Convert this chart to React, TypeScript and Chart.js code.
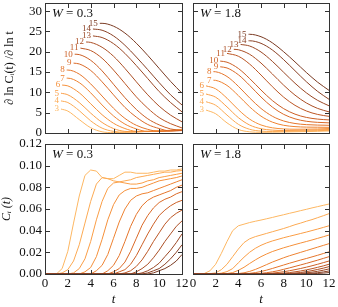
import React, { useEffect, useRef } from "react";
import { Chart, registerables } from "chart.js";

Chart.register(...registerables);

const W = 338;
const H = 307;
const FONT = "'Liberation Serif', 'DejaVu Serif', serif";
const INK = "#111111";
const FRAME = "#333333";
const X_AXIS_H = 33;
const TICK_LEN = 4;

// series indices (n) and their colours
const NS = [3, 4, 5, 6, 7, 8, 9, 10, 11, 12, 13, 14, 15];
const COLORS = [
  "#fdb762", "#fcaa53", "#fa9d45", "#f5903a", "#ee8231", "#e5752b", "#da6927",
  "#cc5f25", "#bc5624", "#ab4e24", "#9a4724", "#8a4024", "#7a3a22",
];

// time grids
const T_TOP = [0, 1, 2, 3, 4, 5, 6, 7, 8, 9, 10, 11, 12];
const T_BOT = [0, 0.5, 1, 1.5, 2, 2.5, 3, 3.5, 4, 4.5, 5, 5.5, 6, 6.5, 7, 7.5, 8, 8.5, 9, 9.5, 10, 10.5, 11, 11.5, 12];

// ticks
const X_TICKS = [0, 2, 4, 6, 8, 10, 12];
const TOP_Y_TICKS = [0, 5, 10, 15, 20, 25, 30];
const BOT_Y_TICKS = [0, 0.02, 0.04, 0.06, 0.08, 0.1, 0.12];

// ---- top-left: d ln C / d ln t, W = 0.3 ----
const TL_START_T = [1.4, 1.4, 1.4, 1.5, 1.9, 1.9, 2.5, 2.6, 3.1, 3.6, 4.2, 4.2, 4.8];
const TL_START_V = [5.9, 7.9, 9.8, 11.8, 13.5, 15.5, 17.2, 19.4, 20.9, 22.4, 23.9, 25.6, 27.0];
const TL_VALS: (number | null)[][] = [
  [null, null, 5.4, 3.3, 1.3, 0.3, 0.1, 0.2, 0.3, 0.4, 0.5, 0.7, 0.9],
  [null, null, 7.5, 5.5, 3.0, 1.2, 0.4, 0.2, 0.3, 0.4, 0.5, 0.65, 0.85],
  [null, null, 9.4, 7.5, 4.9, 2.6, 1.1, 0.4, 0.3, 0.4, 0.5, 0.6, 0.8],
  [null, null, 11.6, 9.9, 7.2, 4.5, 2.4, 1.1, 0.4, 0.35, 0.45, 0.6, 0.75],
  [null, null, 13.5, 12.4, 9.9, 6.9, 4.2, 2.2, 1.0, 0.4, 0.45, 0.55, 0.7],
  [null, null, 15.5, 14.5, 12.1, 9.1, 6.1, 3.6, 1.9, 0.9, 0.4, 0.5, 0.65],
  [null, null, null, 17.0, 15.4, 12.6, 9.4, 6.3, 3.9, 2.1, 1.1, 0.5, 0.6],
  [null, null, null, 19.3, 17.9, 15.3, 12.0, 8.7, 5.8, 3.5, 2.0, 1.0, 0.6],
  [null, null, null, null, 20.3, 18.4, 15.5, 12.2, 8.9, 6.1, 3.8, 2.3, 1.25],
  [null, null, null, null, 22.3, 21.1, 18.9, 15.9, 12.6, 9.4, 6.6, 4.4, 2.75],
  [null, null, null, null, null, 23.5, 22.0, 19.6, 16.6, 13.4, 10.2, 7.5, 5.2],
  [null, null, null, null, null, 25.3, 23.9, 21.6, 18.7, 15.6, 12.4, 9.4, 6.9],
  [null, null, null, null, null, 27.0, 26.3, 24.6, 22.1, 19.1, 15.9, 12.7, 9.8],
];

// ---- top-right: d ln C / d ln t, W = 1.8 ----
const TR_START_T = [1.15, 1.15, 1.15, 1.15, 1.8, 1.8, 2.4, 2.4, 3.0, 3.6, 4.2, 4.9, 4.9];
const TR_START_V = [5.65, 7.7, 9.6, 11.6, 13.0, 15.1, 16.3, 17.7, 19.6, 20.6, 21.8, 22.7, 24.3];
const TR_VALS: (number | null)[][] = [
  [null, null, 4.74, 2.49, 0.87, 0.29, 0.18, 0.2, 0.25, 0.3, 0.35, 0.42, 0.5],
  [null, null, 6.83, 4.41, 2.14, 0.91, 0.47, 0.38, 0.4, 0.45, 0.5, 0.58, 0.65],
  [null, null, 8.81, 6.42, 3.79, 1.96, 1.05, 0.71, 0.62, 0.65, 0.7, 0.78, 0.85],
  [null, null, 10.87, 8.56, 5.74, 3.41, 1.98, 1.28, 1.01, 0.93, 0.95, 1.0, 1.1],
  [null, null, 12.96, 11.71, 9.21, 6.43, 4.15, 2.68, 1.9, 1.57, 1.45, 1.42, 1.4],
  [null, null, 15.07, 13.91, 11.5, 8.63, 6.04, 4.13, 2.96, 2.34, 2.06, 1.95, 1.9],
  [null, null, null, 16.01, 14.35, 11.72, 8.86, 6.38, 4.59, 3.49, 2.89, 2.62, 2.5],
  [null, null, null, 17.43, 15.89, 13.4, 10.58, 7.99, 5.99, 4.64, 3.84, 3.42, 3.22],
  [null, null, null, null, 18.9, 16.96, 14.27, 11.41, 8.82, 6.81, 5.42, 4.57, 4.1],
  [null, null, null, null, 20.5, 19.37, 17.22, 14.54, 11.77, 9.32, 7.4, 6.05, 5.2],
  [null, null, null, null, null, 21.41, 19.94, 17.64, 14.94, 12.25, 9.89, 8.03, 6.7],
  [null, null, null, null, null, 22.7, 22.07, 20.44, 18.05, 15.33, 12.63, 10.23, 8.3],
  [null, null, null, null, null, 24.3, 23.7, 22.2, 20.0, 17.5, 14.9, 12.5, 10.5],
];

// ---- bottom-left: C_i(t), W = 0.3 (t = 0, 0.5, ..., 12) ----
const BL_VALS: number[][] = [
  [0, 0, 0, 0.005, 0.021, 0.047, 0.072, 0.091, 0.096, 0.095, 0.089, 0.088, 0.088, 0.091, 0.094, 0.094, 0.093, 0.093, 0.093, 0.094, 0.095, 0.095, 0.096, 0.096, 0.097],
  [0, 0, 0, 0.001, 0.004, 0.012, 0.027, 0.047, 0.067, 0.083, 0.089, 0.088, 0.086, 0.085, 0.086, 0.087, 0.089, 0.09, 0.091, 0.092, 0.093, 0.094, 0.094, 0.095, 0.0955],
  [0, 0, 0, 0, 0, 0.001, 0.005, 0.014, 0.03, 0.05, 0.067, 0.079, 0.084, 0.085, 0.084, 0.083, 0.083, 0.084, 0.086, 0.087, 0.089, 0.09, 0.091, 0.092, 0.093],
  [0, 0, 0, 0, 0, 0, 0, 0.002, 0.006, 0.016, 0.032, 0.05, 0.064, 0.073, 0.077, 0.079, 0.079, 0.08, 0.082, 0.084, 0.086, 0.087, 0.088, 0.089, 0.0905],
  [0, 0, 0, 0, 0, 0, 0, 0, 0, 0.003, 0.008, 0.018, 0.033, 0.048, 0.06, 0.068, 0.072, 0.074, 0.075, 0.077, 0.079, 0.081, 0.083, 0.085, 0.087],
  [0, 0, 0, 0, 0, 0, 0, 0, 0, 0, 0, 0.003, 0.008, 0.017, 0.03, 0.044, 0.055, 0.063, 0.068, 0.071, 0.073, 0.075, 0.077, 0.08, 0.082],
  [0, 0, 0, 0, 0, 0, 0, 0, 0, 0, 0, 0, 0.002, 0.005, 0.011, 0.021, 0.033, 0.045, 0.054, 0.061, 0.066, 0.069, 0.071, 0.074, 0.076],
  [0, 0, 0, 0, 0, 0, 0, 0, 0, 0, 0, 0, 0, 0.002, 0.004, 0.009, 0.017, 0.027, 0.037, 0.046, 0.054, 0.059, 0.063, 0.066, 0.068],
  [0, 0, 0, 0, 0, 0, 0, 0, 0, 0, 0, 0, 0, 0, 0.001, 0.003, 0.007, 0.013, 0.021, 0.03, 0.038, 0.046, 0.052, 0.056, 0.059],
  [0, 0, 0, 0, 0, 0, 0, 0, 0, 0, 0, 0, 0, 0, 0, 0, 0.002, 0.005, 0.009, 0.015, 0.022, 0.03, 0.037, 0.044, 0.049],
  [0, 0, 0, 0, 0, 0, 0, 0, 0, 0, 0, 0, 0, 0, 0, 0, 0, 0.001, 0.003, 0.006, 0.01, 0.016, 0.022, 0.029, 0.037],
  [0, 0, 0, 0, 0, 0, 0, 0, 0, 0, 0, 0, 0, 0, 0, 0, 0, 0, 0.001, 0.003, 0.005, 0.009, 0.014, 0.02, 0.027],
  [0, 0, 0, 0, 0, 0, 0, 0, 0, 0, 0, 0, 0, 0, 0, 0, 0, 0, 0, 0.001, 0.003, 0.005, 0.008, 0.012, 0.018],
];

// ---- bottom-right: C_i(t), W = 1.8 (t = 0, 0.5, ..., 12) ----
const BR_VALS: number[][] = [
  [0, 0, 0.0005, 0.003, 0.009, 0.019, 0.03, 0.04, 0.0445, 0.046, 0.0475, 0.0487, 0.0498, 0.051, 0.0522, 0.0535, 0.0547, 0.056, 0.0572, 0.0585, 0.0597, 0.061, 0.0622, 0.0634, 0.0646],
  [0, 0, 0, 0.0003, 0.001, 0.004, 0.009, 0.016, 0.023, 0.029, 0.0325, 0.0345, 0.036, 0.0375, 0.039, 0.0405, 0.042, 0.0437, 0.0455, 0.047, 0.0487, 0.0502, 0.052, 0.0538, 0.0557],
  [0, 0, 0, 0, 0, 0.0008, 0.0022, 0.005, 0.0103, 0.0155, 0.0201, 0.0237, 0.0265, 0.0287, 0.0305, 0.032, 0.0335, 0.0348, 0.0361, 0.0374, 0.0387, 0.0401, 0.0415, 0.043, 0.0445],
  [0, 0, 0, 0, 0, 0, 0.0004, 0.0013, 0.0034, 0.0062, 0.0097, 0.013, 0.016, 0.0185, 0.0207, 0.0225, 0.0242, 0.0257, 0.0272, 0.0286, 0.03, 0.0314, 0.0329, 0.0344, 0.036],
  [0, 0, 0, 0, 0, 0, 0, 0, 0.0004, 0.0011, 0.0024, 0.0042, 0.0064, 0.0087, 0.011, 0.013, 0.015, 0.0168, 0.0184, 0.02, 0.0216, 0.0232, 0.0248, 0.0264, 0.028],
  [0, 0, 0, 0, 0, 0, 0, 0, 0, 0, 0.0006, 0.0013, 0.0023, 0.0036, 0.0051, 0.0067, 0.0083, 0.0099, 0.0114, 0.0129, 0.0143, 0.0158, 0.0173, 0.0189, 0.0205],
  [0, 0, 0, 0, 0, 0, 0, 0, 0, 0, 0, 0, 0.0006, 0.0012, 0.002, 0.003, 0.0043, 0.0056, 0.007, 0.0084, 0.0098, 0.0113, 0.0128, 0.0144, 0.016],
  [0, 0, 0, 0, 0, 0, 0, 0, 0, 0, 0, 0, 0, 0.0004, 0.0008, 0.0014, 0.0021, 0.003, 0.004, 0.0051, 0.0063, 0.0076, 0.009, 0.0105, 0.012],
  [0, 0, 0, 0, 0, 0, 0, 0, 0, 0, 0, 0, 0, 0, 0.0002, 0.0004, 0.0008, 0.0013, 0.002, 0.0028, 0.0038, 0.0049, 0.0062, 0.0075, 0.009],
  [0, 0, 0, 0, 0, 0, 0, 0, 0, 0, 0, 0, 0, 0, 0, 0, 0.0003, 0.0005, 0.0009, 0.0014, 0.0022, 0.0031, 0.0042, 0.0054, 0.0068],
  [0, 0, 0, 0, 0, 0, 0, 0, 0, 0, 0, 0, 0, 0, 0, 0, 0, 0, 0.0003, 0.0006, 0.0011, 0.0017, 0.0025, 0.0035, 0.0047],
  [0, 0, 0, 0, 0, 0, 0, 0, 0, 0, 0, 0, 0, 0, 0, 0, 0, 0, 0, 0, 0.0004, 0.0007, 0.0012, 0.0019, 0.0028],
  [0, 0, 0, 0, 0, 0, 0, 0, 0, 0, 0, 0, 0, 0, 0, 0, 0, 0, 0, 0, 0, 0.0002, 0.0005, 0.0008, 0.0013],
];

type Pt = { x: number; y: number };
type Area = { l: number; r: number; t: number; b: number };

interface PanelSpec {
  id: string;
  area: Area;
  yMax: number;
  yTicks: number[];
  yFmt: (v: number) => string;
  showY: boolean;
  showX: boolean;
  yTitle?: string;
  yTitleItalic?: boolean;
  yTitlePad?: number;
  wText: string;
  series: Pt[][];
  starts?: Pt[];
  smooth: boolean;
}

function topSeries(startT: number[], startV: number[], vals: (number | null)[][]): Pt[][] {
  return vals.map((row, k) => {
    const pts: Pt[] = [{ x: startT[k], y: startV[k] }];
    row.forEach((v, i) => {
      if (v !== null && T_TOP[i] > startT[k]) pts.push({ x: T_TOP[i], y: v });
    });
    return pts;
  });
}

function botSeries(vals: number[][]): Pt[][] {
  return vals.map((row) => row.map((v, i) => ({ x: T_BOT[i], y: v })));
}

function decorPlugin(spec: PanelSpec) {
  return {
    id: "decor_" + spec.id,
    afterDatasetsDraw(chart: any) {
      const { ctx, chartArea: a, scales } = chart;
      const xs = scales.x;
      const ys = scales.y;
      const x0 = Math.round(a.left);
      const x1 = Math.round(a.right);
      const y0 = Math.round(a.top);
      const y1 = Math.round(a.bottom);
      ctx.save();
      ctx.strokeStyle = FRAME;
      ctx.lineWidth = 1;
      ctx.strokeRect(x0 + 0.5, y0 + 0.5, x1 - x0, y1 - y0);
      ctx.beginPath();
      X_TICKS.forEach((v) => {
        const px = Math.round(xs.getPixelForValue(v)) + 0.5;
        ctx.moveTo(px, y1);
        ctx.lineTo(px, y1 - TICK_LEN);
        ctx.moveTo(px, y0 + 1);
        ctx.lineTo(px, y0 + 1 + TICK_LEN);
      });
      spec.yTicks.forEach((v) => {
        const py = Math.round(ys.getPixelForValue(v)) + 0.5;
        ctx.moveTo(x0 + 1, py);
        ctx.lineTo(x0 + 1 + TICK_LEN, py);
        ctx.moveTo(x1, py);
        ctx.lineTo(x1 - TICK_LEN, py);
      });
      ctx.stroke();

      // W annotation
      ctx.fillStyle = INK;
      ctx.textBaseline = "middle";
      ctx.textAlign = "left";
      ctx.font = `italic 13px ${FONT}`;
      const wx = a.left + 7;
      const wy = a.top + 11;
      ctx.fillText("W", wx, wy);
      const ww = ctx.measureText("W").width;
      ctx.font = `13px ${FONT}`;
      ctx.fillText(" = " + spec.wText, wx + ww, wy);

      // curve labels at the starting points
      if (spec.starts) {
        ctx.font = `9px ${FONT}`;
        ctx.textAlign = "right";
        ctx.textBaseline = "middle";
        spec.starts.forEach((p, k) => {
          const px = xs.getPixelForValue(p.x);
          const py = ys.getPixelForValue(p.y);
          ctx.fillStyle = COLORS[k];
          ctx.fillText(String(NS[k]), px - 2, py);
        });
      }
      ctx.restore();
    },
  };
}

function zeroPad(s: any) {
  s.paddingLeft = 0;
  s.paddingRight = 0;
  s.paddingTop = 0;
  s.paddingBottom = 0;
}

function makeConfig(spec: PanelSpec): any {
  const a = spec.area;
  return {
    type: "line",
    data: {
      datasets: spec.series.map((pts, k) => ({
        label: "n=" + NS[k],
        data: pts,
        borderColor: COLORS[k],
        backgroundColor: COLORS[k],
        borderWidth: 1,
        pointRadius: 0,
        fill: false,
        tension: 0,
        cubicInterpolationMode: spec.smooth ? "monotone" : "default",
        borderJoinStyle: "round",
        order: -NS[k],
      })),
    },
    options: {
      responsive: false,
      maintainAspectRatio: false,
      animation: false,
      devicePixelRatio: 1,
      events: [],
      layout: {
        padding: {
          left: spec.showY ? 0 : a.l,
          right: W - a.r,
          top: a.t,
          bottom: spec.showX ? H - a.b - X_AXIS_H : H - a.b,
        },
      },
      plugins: { legend: { display: false }, tooltip: { enabled: false }, title: { display: false } },
      scales: {
        x: {
          type: "linear",
          min: 0,
          max: 12,
          display: spec.showX,
          grid: { display: false, drawTicks: false },
          border: { display: false },
          ticks: { font: { family: FONT, size: 13 }, color: INK, padding: 2, maxRotation: 0, minRotation: 0, autoSkip: false },
          afterBuildTicks: (s: any) => {
            s.ticks = X_TICKS.map((v) => ({ value: v }));
          },
          afterFit: (s: any) => {
            s.height = spec.showX ? X_AXIS_H : 0;
            zeroPad(s);
          },
          title: {
            display: spec.showX,
            text: "t",
            color: INK,
            font: { family: FONT, size: 13, style: "italic" },
            padding: { top: 0, bottom: 0 },
          },
        },
        y: {
          type: "linear",
          min: 0,
          max: spec.yMax,
          display: spec.showY,
          grid: { display: false, drawTicks: false },
          border: { display: false },
          ticks: {
            font: { family: FONT, size: 13 },
            color: INK,
            padding: 3,
            autoSkip: false,
            callback: (v: number) => spec.yFmt(v),
          },
          afterBuildTicks: (s: any) => {
            s.ticks = spec.yTicks.map((v) => ({ value: v }));
          },
          afterFit: (s: any) => {
            s.width = spec.showY ? a.l : 0;
            zeroPad(s);
          },
          title: {
            display: !!spec.yTitle,
            text: spec.yTitle || "",
            color: INK,
            font: { family: FONT, size: 12, style: spec.yTitleItalic ? "italic" : "normal" },
            padding: { top: spec.yTitlePad || 0, bottom: 0 },
          },
        },
      },
    },
    plugins: [decorPlugin(spec)],
  };
}

const PANELS: PanelSpec[] = [
  {
    id: "tl",
    area: { l: 45, r: 182, t: 3, b: 133 },
    yMax: 32,
    yTicks: TOP_Y_TICKS,
    yFmt: (v) => String(v),
    showY: true,
    showX: false,
    yTitle: "∂ ln Cᵢ(t) /∂ ln t",
    yTitlePad: 3,
    wText: "0.3",
    series: topSeries(TL_START_T, TL_START_V, TL_VALS),
    starts: TL_START_T.map((t, k) => ({ x: t, y: TL_START_V[k] })),
    smooth: true,
  },
  {
    id: "tr",
    area: { l: 193, r: 329, t: 3, b: 133 },
    yMax: 32,
    yTicks: TOP_Y_TICKS,
    yFmt: (v) => String(v),
    showY: false,
    showX: false,
    wText: "1.8",
    series: topSeries(TR_START_T, TR_START_V, TR_VALS),
    starts: TR_START_T.map((t, k) => ({ x: t, y: TR_START_V[k] })),
    smooth: true,
  },
  {
    id: "bl",
    area: { l: 45, r: 182, t: 144, b: 274 },
    yMax: 0.12,
    yTicks: BOT_Y_TICKS,
    yFmt: (v) => v.toFixed(2),
    showY: true,
    showX: true,
    yTitle: "Cᵢ (t)",
    yTitleItalic: true,
    yTitlePad: 0,
    wText: "0.3",
    series: botSeries(BL_VALS),
    smooth: false,
  },
  {
    id: "br",
    area: { l: 193, r: 329, t: 144, b: 274 },
    yMax: 0.12,
    yTicks: BOT_Y_TICKS,
    yFmt: (v) => v.toFixed(2),
    showY: false,
    showX: true,
    wText: "1.8",
    series: botSeries(BR_VALS),
    smooth: false,
  },
];

function Panel({ spec }: { spec: PanelSpec }) {
  const ref = useRef<HTMLCanvasElement | null>(null);
  useEffect(() => {
    if (!ref.current) return;
    const chart = new Chart(ref.current, makeConfig(spec));
    return () => chart.destroy();
  }, [spec]);
  return (
    <canvas
      ref={ref}
      width={W}
      height={H}
      style={{ position: "absolute", left: 0, top: 0, width: W, height: H }}
    />
  );
}

export default function App() {
  return (
    <div style={{ position: "fixed", left: 0, top: 0, width: W, height: H, background: "#ffffff" }}>
      {PANELS.map((p) => (
        <Panel key={p.id} spec={p} />
      ))}
    </div>
  );
}
